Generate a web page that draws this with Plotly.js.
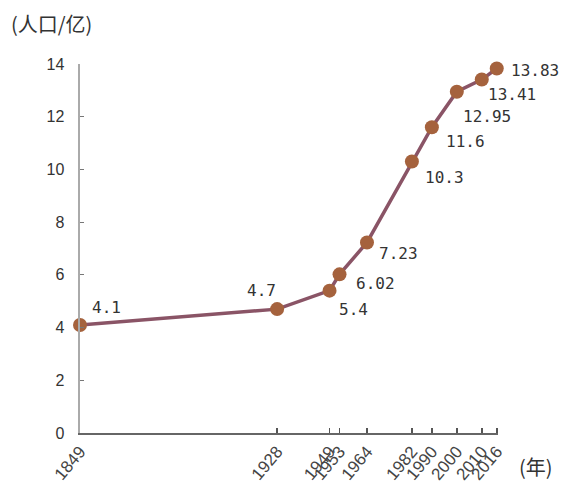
<!DOCTYPE html>
<html><head><meta charset="utf-8">
<script src="https://cdn.plot.ly/plotly-3.0.1.min.js"></script>
<style>html,body{margin:0;padding:0;background:#fff}</style>
</head><body><div id="chart" style="width:564px;height:491px"></div>
<script>
const years = [1849, 1928, 1949, 1953, 1964, 1982, 1990, 2000, 2010, 2016];
const population = [4.1, 4.7, 5.4, 6.02, 7.23, 10.3, 11.6, 12.95, 13.41, 13.83];
const valueLabels = ['4.1', '4.7', '5.4', '6.02', '7.23', '10.3', '11.6', '12.95', '13.41', '13.83'];
const yTicks = [0, 2, 4, 6, 8, 10, 12, 14];

// label offsets (px) relative to each point — style only
const labelDx = [26, -16, 24, 36, 32, 33, 34, 30, 30, 38];
const labelDy = [-17, -19, 19, 9, 11, 16, 14, 25, 15, 2];

const annotations = years.map((yr, i) => ({
  x: yr, y: population[i], xref: 'x', yref: 'y',
  text: valueLabels[i], showarrow: false,
  xanchor: 'center', yanchor: 'middle',
  xshift: labelDx[i], yshift: -labelDy[i],
  font: {family: 'DejaVu Sans Mono', size: 16, color: '#333'}
}));
annotations.push({
  xref: 'paper', yref: 'paper', x: -0.17, y: 1.11, xanchor: 'left', yanchor: 'middle',
  text: '(人口/亿)', showarrow: false,
  font: {family: 'Noto Sans CJK SC', size: 20, color: '#333'}
});
annotations.push({
  xref: 'paper', yref: 'paper', x: 1.045, y: -0.09, xanchor: 'left', yanchor: 'middle',
  text: '(年)', showarrow: false,
  font: {family: 'Noto Sans CJK SC', size: 20, color: '#333'}
});

const trace = {
  x: years, y: population, type: 'scatter', mode: 'lines+markers',
  line: {color: '#8a5466', width: 3.5},
  marker: {color: '#a5623d', size: 14},
  cliponaxis: false, hoverinfo: 'skip'
};

const layout = {
  width: 564, height: 491,
  margin: {l: 80, r: 66, t: 64, b: 58},
  paper_bgcolor: '#fff', plot_bgcolor: '#fff',
  showlegend: false,
  xaxis: {
    range: [1849, 2016.5], tickvals: years, ticktext: years.map(String),
    tickangle: -50, ticks: 'inside', ticklen: 5, tickcolor: '#555', tickwidth: 1.5,
    showline: true, linecolor: '#666', linewidth: 2, showgrid: false, zeroline: false,
    tickfont: {family: 'Liberation Sans', size: 17, color: '#444'}
  },
  yaxis: {
    range: [0, 14], tickvals: yTicks, ticks: 'inside', ticklen: 4, tickcolor: '#777',
    showline: true, linecolor: '#aaa', linewidth: 2.5, showgrid: false, zeroline: false,
    ticklabelstandoff: 10,
    tickfont: {family: 'Liberation Sans', size: 16, color: '#333'}
  },
  annotations: annotations
};
Plotly.newPlot('chart', [trace], layout, {staticPlot: true});
</script></body></html>
